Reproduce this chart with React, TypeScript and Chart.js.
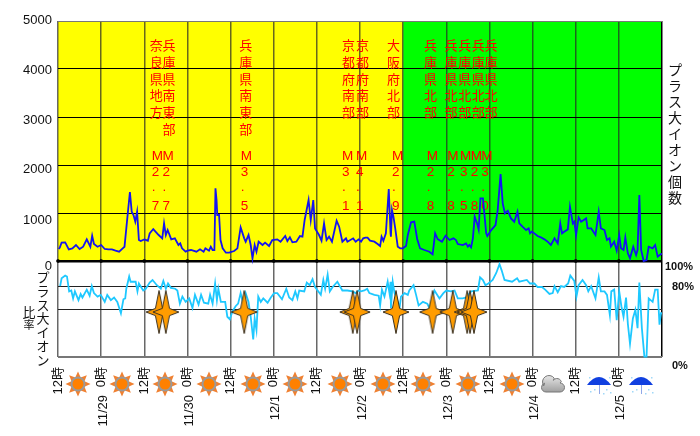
import React, { useEffect, useRef } from "react";
import { Chart, registerables } from "chart.js";

Chart.register(...registerables);

const countHours = [0.2,0.5,1,2,3,4,5,6,7,8,9,9.5,10,11,12,13,14,15,16,17,18,18.5,19,19.5,20,20.5,21,21.5,22,22.5,23,24,25,25.5,26.5,28,29,29.5,30,30.5,31.5,32.5,33.5,34,34.5,35.5,36,37,38.5,39.5,40.5,41,42,42.5,43,43.5,43.8,44.1,44.3,44.8,45.2,45.8,46.7,47.6,49,49.9,50.8,51.8,52.2,53,53.6,54.1,54.7,55.2,55.8,56.9,57.6,58.7,59.6,61,61.9,63.2,63.8,64.5,65.2,66.3,67.3,68,68.6,69.7,70.3,71,71.5,72.6,73.3,74,74.7,75.4,76.2,77.5,78.2,79.1,80.1,80.5,82.1,82.8,83.6,84.3,84.9,85.5,86.1,86.8,88,88.9,89.6,90,90.5,91.2,92,92.5,92.6,92.9,93.3,93.8,94.5,95.2,95.9,96.8,97.3,98.2,99.1,99.9,100.7,101.9,103.3,104.2,104.9,105.6,106.8,107.8,108.9,110,110.7,111.2,112.6,113.5,114,114.4,114.9,115.4,115.9,116.7,117,117.5,118.2,119.1,119.4,120.5,121.7,122.3,123.1,123.7,124.3,125.1,126,126.9,127.8,128.3,129.2,130.2,130.9,131.3,131.8,132.5,133.4,134.3,135.3,136.2,137.1,138.1,139,139.7,140.2,140.8,141.8,142.4,143.2,143.6,144.1,144.8,145.5,146.9,147.3,148.3,149.5,150.4,151,152,152.7,153.4,153.8,154.7,155.4,156.1,156.6,157.3,157.8,158.5,159.1,160,160.8,161.2,161.7,162.2,162.9,163.7,164.3,165.4,166.1,166.8,167.7,168];
const countValues = [250,278,382,389,243,264,333,250,298,451,298,527,354,298,333,250,243,243,215,194,264,298,680,1062,1437,1027,958,819,1027,437,416,451,423,576,666,541,472,784,541,645,451,472,333,368,264,194,215,229,194,243,194,264,215,298,229,229,1513,1270,958,958,437,264,173,173,208,264,701,472,402,541,333,56,333,194,402,333,382,312,437,451,402,520,416,493,389,402,520,507,854,1270,854,1270,680,541,423,784,437,507,402,840,715,402,472,402,472,402,451,402,472,486,486,423,402,354,312,507,423,576,1499,576,507,1062,923,680,298,264,264,312,541,805,819,458,264,229,194,139,576,458,402,527,437,472,437,354,333,368,298,333,284,472,923,750,659,1305,1305,576,520,645,750,1062,1811,1201,992,1048,888,819,1027,784,715,645,680,576,611,576,520,493,451,402,333,472,368,784,576,611,659,1131,784,819,541,909,819,888,680,680,541,1027,680,645,437,472,298,402,215,541,264,229,493,159,56,298,125,229,1374,229,0,21,298,264,333,90,146,150];

const ratioHours = [0.6,1,2,2.5,3.1,3.7,4.2,4.7,5.7,6.3,6.8,8,8.8,9.4,10,11,11.9,13,13.7,14.7,15.6,16.5,17.5,18.2,18.7,19,19.8,20.2,21.6,22.1,22.5,23.7,24.4,25.5,26.3,27.5,28.6,29.3,30,30.6,31.4,32.6,33.2,33.9,34.6,35.5,36.5,37.4,38.1,39.1,39.8,40.6,41.8,42.3,43,43.7,44.2,44.6,45.3,46.5,47.1,47.8,48.5,49.4,50.1,50.8,51.5,52.2,53,53.6,54.3,54.7,55.2,55.7,56.4,57.1,58.3,59.2,60.1,61,62.3,63.5,64.3,65.2,66,66.6,67.1,68.5,69.2,70,70.8,71.5,73.1,73.8,74.3,75,75.6,76.4,77.7,79.1,80.5,81.9,82.8,83.6,84.3,85.2,86,86.6,88,89.2,89.6,90.1,90.8,91.7,92.2,92.5,92.6,93.1,93.6,94.2,95,95.4,96.4,97.3,97.7,98.9,99.6,100.3,101.5,102.7,103.3,104.7,106.1,107.2,108,109.3,110.3,111.2,112.6,113.5,114.9,116.8,117.4,118.2,118.9,119.7,120.9,121.9,122.8,123.4,124.2,126.3,127.7,128.3,130.4,131.3,132.5,133.4,134.6,135.5,136.7,137.6,138.1,139,139.9,140.8,141.9,142.5,143.6,144.2,144.8,145.9,146.9,147.5,148.3,149.5,150.4,151,152,152.7,153.5,153.9,154.7,155.4,156.1,156.7,157.3,158,158.5,159.1,159.9,160.6,161.2,161.7,162.4,163.1,163.7,164.3,165.4,166.1,166.8,167.3,167.7,168];
const ratioValues = [81,90,93,92,75,76,67,75,65,72,68,77,70,81,73,69,71,63,71,65,68,63,50,66,67,78,92,86,86,75,84,76,78,85,88,82,78,87,78,84,79,78,76,61,69,63,67,56,71,60,71,62,61,71,61,84,65,78,63,63,46,43,52,58,61,73,61,73,63,46,20,44,31,69,63,67,62,68,73,73,66,78,68,65,75,67,76,75,85,82,89,80,71,88,78,94,75,80,86,76,76,75,73,76,75,76,78,73,71,70,59,77,69,86,73,86,56,86,73,67,56,69,73,71,76,82,71,59,63,61,56,76,67,73,76,75,76,67,67,68,75,76,91,88,82,84,88,96,106,99,88,86,90,86,88,84,84,80,80,77,72,73,81,74,81,80,84,93,87,69,82,88,82,75,81,67,91,75,75,71,48,75,77,42,75,58,46,68,38,15,44,54,33,85,33,0.4,0.4,67,63,77,77,37,50,50];

const quakeHours = [28.1, 30, 51.8, 82, 83.2, 94, 104.2, 109.8, 113.8, 114.6, 115.7];
const quakeNames = ["奈良県地方","兵庫県南東部","兵庫県南東部","京都府南部","京都府南部","大阪府北部","兵庫県北部","兵庫県北部","兵庫県北部","兵庫県北部","兵庫県北部"];
const quakeMagnitudes = ["M2.7","M2.7","M3.5","M3.1","M4.1","M2.9","M2.8","M2.8","M3.5","M2.8","M3.0"];
const nameHours = [25.5, 29.1, 50.4, 79, 82.9, 91.5, 101.8, 107.5, 111.3, 115.1, 118.6];
const magnitudeHours = [26.1, 29.1, 50.8, 79, 82.9, 92.9, 102.6, 108.3, 111.8, 114.8, 117.7];

const countTicks = [0, 1000, 2000, 3000, 4000, 5000];
const countTickShift = [5.5, 7, 4, 3, 1.5, -1];
const ratioLabels = ["100%", "80%", "0%"];
const ratioLabelValues = [103, 80, -10];
const ratioLabelLeft = [665, 672, 672];
const ratioGrid = [0, 54, 80];
const hourLabels = ["12時", "0時"];
const dateLabels = ["11/29", "11/30", "12/1", "12/2", "12/3", "12/4", "12/5"];
const dateHours = [12, 36, 60, 84, 108, 132, 156];
const weatherHours = [5.6, 17.9, 29.7, 42, 54.3, 65.9, 78.3, 90.3, 101.6, 114.1, 126.2, 137.8, 150.4, 162.1];
const weatherKinds = ["sun","sun","sun","sun","sun","sun","sun","sun","sun","sun","sun","cloud","rain","rain"];
const weatherLevel = -31;
const yellowEnd = 96;
const totalHours = 168;
const gridHours = [0,12,24,36,48,60,72,84,96,108,120,132,144,156];

const SANS = '"Liberation Sans", "Noto Sans CJK JP", sans-serif';
const CJK = '"Noto Sans CJK JP", sans-serif';

function makeCanvas(w: number, h: number, draw: (c: CanvasRenderingContext2D) => void) {
  const cv = document.createElement("canvas");
  cv.width = w;
  cv.height = h;
  draw(cv.getContext("2d")!);
  return cv;
}

function starIcon() {
  return makeCanvas(28, 44, (c) => {
    const cx = 14, cy = 22, a = 13, b = 21.5, n = 3.6;
    c.beginPath();
    c.moveTo(cx, cy - b);
    c.lineTo(cx + n, cy - n);
    c.lineTo(cx + a, cy);
    c.lineTo(cx + n, cy + n);
    c.lineTo(cx, cy + b);
    c.lineTo(cx - n, cy + n);
    c.lineTo(cx - a, cy);
    c.lineTo(cx - n, cy - n);
    c.closePath();
    c.fillStyle = "#ff9c00";
    c.fill();
    c.strokeStyle = "#3a3020";
    c.lineWidth = 1;
    c.stroke();
  });
}

function sunIcon() {
  return makeCanvas(26, 26, (c) => {
    const m = 13;
    c.fillStyle = "#f08030";
    for (let i = 0; i < 8; i++) {
      const t = (i * Math.PI) / 4;
      c.beginPath();
      c.moveTo(m + Math.cos(t) * 12.5, m + Math.sin(t) * 12.5);
      c.lineTo(m + Math.cos(t + 0.4) * 7, m + Math.sin(t + 0.4) * 7);
      c.lineTo(m + Math.cos(t - 0.4) * 7, m + Math.sin(t - 0.4) * 7);
      c.closePath();
      c.fill();
    }
    c.beginPath();
    c.arc(m, m, 7.5, 0, Math.PI * 2);
    c.fillStyle = "#9a9a9a";
    c.fill();
    c.beginPath();
    c.arc(m, m, 5.5, 0, Math.PI * 2);
    c.fillStyle = "#ff8000";
    c.fill();
  });
}

function cloudIcon() {
  return makeCanvas(26, 20, (c) => {
    const g = c.createLinearGradient(0, 2, 0, 18);
    g.addColorStop(0, "#e4e4e4");
    g.addColorStop(1, "#a0a0a0");
    c.fillStyle = g;
    c.strokeStyle = "#777777";
    c.beginPath();
    c.arc(9, 8, 6.5, Math.PI * 0.8, Math.PI * 1.8);
    c.arc(17, 9, 4.5, Math.PI * 1.2, Math.PI * 1.9);
    c.arc(20, 13.5, 4.5, Math.PI * 1.5, Math.PI * 0.5);
    c.lineTo(6, 18);
    c.arc(6, 13.5, 4.5, Math.PI * 0.5, Math.PI * 1.4);
    c.closePath();
    c.fill();
    c.stroke();
  });
}

function rainIcon() {
  return makeCanvas(26, 22, (c) => {
    c.fillStyle = "#1040e0";
    c.beginPath();
    c.moveTo(1, 12);
    c.quadraticCurveTo(13, -4, 25, 12);
    c.lineTo(1, 12);
    c.closePath();
    c.fill();
    c.strokeStyle = "#90a8e8";
    c.lineWidth = 1;
    c.beginPath();
    c.moveTo(13.5, 12);
    c.lineTo(13.5, 21);
    c.stroke();
    c.fillStyle = "#a0d8f8";
    for (const [x, y] of [[3, 4],[8, 16],[20, 16],[23, 4],[4, 18],[24, 19],[17, 20]]) {
      c.fillRect(x, y, 1.5, 1.5);
    }
  });
}

export default function App() {
  const ref = useRef<HTMLCanvasElement | null>(null);
  useEffect(() => {
    document.body.style.margin = "0";
    const icons: Record<string, HTMLCanvasElement> = { sun: sunIcon(), cloud: cloudIcon(), rain: rainIcon() };
    const star = starIcon();
    const backdrop = {
      id: "backdrop",
      beforeDraw(chart: any) {
        const { ctx, scales: { x, count } } = chart;
        const top = count.getPixelForValue(5000), bottom = count.getPixelForValue(0);
        ctx.save();
        ctx.fillStyle = "#ffff00";
        ctx.fillRect(x.getPixelForValue(0), top, x.getPixelForValue(yellowEnd) - x.getPixelForValue(0), bottom - top);
        ctx.fillStyle = "#00ff00";
        ctx.fillRect(x.getPixelForValue(yellowEnd), top, x.getPixelForValue(totalHours) - x.getPixelForValue(yellowEnd), bottom - top);
        ctx.restore();
      },
      beforeDatasetsDraw(chart: any) {
        const { ctx, scales: { x } } = chart;
        ctx.save();
        ctx.fillStyle = "#ff0000";
        ctx.textBaseline = "middle";
        ctx.textAlign = "left";
        quakeNames.forEach((name, i) => {
          ctx.font = `13px ${CJK}`;
          const px = x.getPixelForValue(nameHours[i]);
          Array.from(name).forEach((ch, k) => ctx.fillText(ch, px, 45 + k * 16.8));
          ctx.font = `13.5px ${SANS}`;
          const mx = x.getPixelForValue(magnitudeHours[i]);
          const m = quakeMagnitudes[i];
          ctx.fillText("M", mx, 156);
          ctx.fillText(m[1], mx, 172.6);
          ctx.fillText(".", mx, 187);
          ctx.fillText(m[3], mx, 206);
        });
        ctx.restore();
      },
      afterDraw(chart: any) {
        const { ctx, scales: { x, count, ratio } } = chart;
        ctx.save();
        weatherHours.forEach((h, i) => {
          const img = icons[weatherKinds[i]];
          ctx.drawImage(
            img,
            Math.round(x.getPixelForValue(h) - img.width / 2),
            Math.round(ratio.getPixelForValue(weatherLevel) - img.height / 2),
          );
        });
        ctx.fillStyle = "#111111";
        ctx.textBaseline = "middle";
        ctx.font = `13px ${SANS}`;
        ctx.textAlign = "right";
        countTicks.forEach((v, i) => ctx.fillText(String(v), 52, count.getPixelForValue(v) + countTickShift[i]));
        ctx.textAlign = "left";
        ctx.font = `bold 11px ${SANS}`;
        ratioLabels.forEach((t, i) => ctx.fillText(t, ratioLabelLeft[i], ratio.getPixelForValue(ratioLabelValues[i])));
        ctx.font = `13px ${SANS}`;
        dateLabels.forEach((t, i) => {
          ctx.save();
          ctx.translate(x.getPixelForValue(dateHours[i]) + 2, 395);
          ctx.rotate(-Math.PI / 2);
          ctx.textAlign = "right";
          ctx.fillText(t, 0, 0);
          ctx.restore();
        });
        ctx.textAlign = "center";
        ctx.font = `14px ${CJK}`;
        Array.from("プラス大イオン個数").forEach((ch, k) => ctx.fillText(ch, 675, 70 + k * 16));
        ctx.font = `13px ${CJK}`;
        Array.from("プラス大イオン").forEach((ch, k) => ctx.fillText(ch, 43, 277 + k * 13.8));
        ctx.fillText("比", 29, 312);
        ctx.font = `11px ${CJK}`;
        ctx.fillText("率", 29, 325);
        ctx.restore();
      },
    };
    const chart = new Chart(ref.current!, {
      type: "line",
      plugins: [backdrop as any],
      data: {
        datasets: [
          {
            label: "地震",
            data: quakeHours.map((h) => ({ x: h, y: 51.4 })),
            yAxisID: "ratio",
            showLine: false,
            pointStyle: star as any,
            pointRadius: 14,
            clip: false as any,
            order: 0,
          },
          {
            label: "プラス大イオン個数",
            data: countHours.map((h, i) => ({ x: h, y: countValues[i] })),
            yAxisID: "count",
            borderColor: "#1414f0",
            borderWidth: 1.8,
            pointRadius: 0,
            tension: 0,
            clip: false as any,
            order: 1,
          },
          {
            label: "プラス大イオン比率",
            data: ratioHours.map((h, i) => ({ x: h, y: ratioValues[i] })),
            yAxisID: "ratio",
            borderColor: "#1ec8ff",
            borderWidth: 1.8,
            pointRadius: 0,
            tension: 0,
            clip: false as any,
            order: 2,
          },
          {
            label: "目盛",
            data: gridHours.map((h) => ({ x: h, y: 0 })),
            yAxisID: "count",
            showLine: false,
            pointStyle: "rect",
            pointRadius: 1.6,
            pointBackgroundColor: "#000000",
            pointBorderColor: "#000000",
            clip: false as any,
            order: 1,
          },
        ],
      },
      options: {
        animation: false,
        responsive: false,
        layout: { padding: { top: 21, right: 38, left: 0, bottom: 0 } },
        plugins: { legend: { display: false }, tooltip: { enabled: false } },
        scales: {
          x: {
            type: "linear",
            min: 0,
            max: totalHours,
            afterFit(s: any) { s.height = 79; },
            border: { display: false },
            grid: {
              color: (c: any) => (c.tick?.value === totalHours ? "#000000" : "rgba(40,40,40,0.7)"),
              lineWidth: 1.5,
              drawTicks: false,
            },
            ticks: {
              stepSize: 12,
              autoSkip: false,
              minRotation: 90,
              maxRotation: 90,
              padding: 10,
              color: "#111111",
              font: { family: SANS, size: 13 },
              callback: (v: any) => (v === totalHours ? "" : hourLabels[(v / 12) % 2]),
            },
          },
          ratio: {
            type: "linear",
            position: "left",
            stack: "v",
            stackWeight: 96,
            min: 0,
            max: 109.7,
            afterFit(s: any) { s.width = 58; },
            afterBuildTicks(s: any) { s.ticks = ratioGrid.map((value) => ({ value })); },
            border: { display: false },
            grid: {
              color: (c: any) => (c.tick?.value === 0 ? "#777777" : "#222222"),
              lineWidth: (c: any) => (c.tick?.value === 0 ? 2 : 1),
              drawTicks: false,
            },
            ticks: { display: false },
          },
          count: {
            type: "linear",
            position: "left",
            stack: "v",
            stackWeight: 240,
            min: 0,
            max: 5000,
            afterFit(s: any) { s.width = 58; },
            border: { display: false },
            grid: {
              color: (c: any) => (c.tick?.value === 5000 ? "#777777" : "#000000"),
              lineWidth: (c: any) => (c.tick?.value === 0 ? 2.5 : 1),
              drawTicks: false,
            },
            ticks: { stepSize: 1000, display: false },
          },
        },
      } as any,
    });
    return () => chart.destroy();
  }, []);
  return (
    <div style={{ position: "fixed", left: 0, top: 0, width: 700, height: 436, background: "#ffffff" }}>
      <canvas ref={ref} width={700} height={436} style={{ display: "block", width: 700, height: 436 }} />
    </div>
  );
}
